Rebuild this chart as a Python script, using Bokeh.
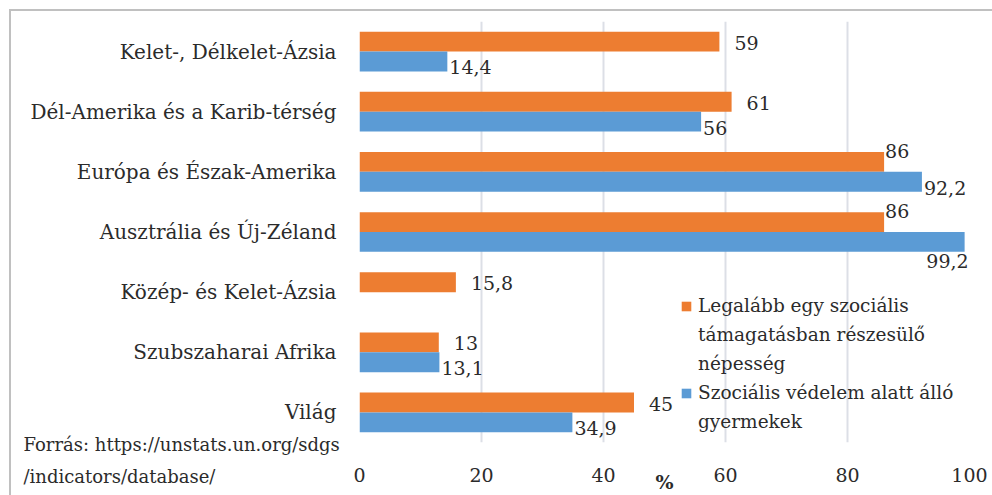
from bokeh.plotting import figure
from bokeh.models import (ColumnDataSource, FactorRange, Range1d, Legend, LegendItem, Label,
                          FixedTicker, InlineStyleSheet)
from bokeh.layouts import column
from bokeh.transform import dodge
from bokeh.core.properties import value
from bokeh.embed import file_html
from bokeh.resources import INLINE

# ---- data ----
categories = ["Kelet-, Délkelet-Ázsia", "Dél-Amerika és a Karib-térség", "Európa és Észak-Amerika",
              "Ausztrália és Új-Zéland", "Közép- és Kelet-Ázsia", "Szubszaharai Afrika", "Világ"]
population = [59, 61, 86, 86, 15.8, 13, 45]
children = [14.4, 56, 92.2, 99.2, None, 13.1, 34.9]
series_lines = [["Legalább egy szociális", "támagatásban részesülő", "népesség"],
                ["Szociális védelem alatt álló", "gyermekek"]]
x_ticks = [0, 20, 40, 60, 80, 100]
axis_unit = "%"
source_lines = ["Forrás: https://unstats.un.org/sdgs", "/indicators/database/"]

FONT = "DejaVu Serif"
TXT = "#2b2b2b"
ORANGE = "#ED7D31"
BLUE = "#5B9BD5"
BH = 0.33
OFF = 0.165
W, H = 992, 495

def fmt(v):
    return ("%g" % v).replace(".", ",")

p = figure(width=W, height=H, output_backend="svg", toolbar_location=None,
           y_range=FactorRange(factors=list(reversed(categories)), range_padding=0),
           x_range=Range1d(0, 100),
           min_border_left=359, min_border_right=23, min_border_top=21, min_border_bottom=50)
p.outline_line_color = None
p.background_fill_color = "white"
p.stylesheets = [InlineStyleSheet(css="""
:host { position: relative; overflow: hidden; z-index: 0; }
:host::after { content: ""; position: absolute; left: 9px; top: 9px; width: 3000px; height: 3000px;
  border-left: 2px solid #c0c0c0; border-top: 2px solid #c0c0c0; pointer-events: none; }
""")]

o_cats = [c for c, v in zip(categories, population) if v is not None]
o_vals = [v for v in population if v is not None]
b_cats = [c for c, v in zip(categories, children) if v is not None]
b_vals = [v for v in children if v is not None]

src_o = ColumnDataSource(dict(cat=o_cats, val=o_vals))
src_b = ColumnDataSource(dict(cat=b_cats, val=b_vals))

r_o = p.hbar(y=dodge("cat", OFF, range=p.y_range), left=0, right="val", height=BH, source=src_o,
             fill_color=ORANGE, line_color=None)
r_b = p.hbar(y=dodge("cat", -OFF, range=p.y_range), left=0, right="val", height=BH, source=src_b,
             fill_color=BLUE, line_color=None)

# data labels (placement rules mimic the reference)
def label_source(cats, vals, kind):
    left = dict(cat=[], x=[], text=[], xo=[], yo=[])
    right = dict(cat=[], x=[], text=[], xo=[], yo=[])
    for c, v in zip(cats, vals):
        if kind == "o":
            if v >= 80:
                d, xo, yo = left, 1, -11
            else:
                d, xo, yo = left, 15, 1
        else:
            if v >= 95:
                d, xo, yo = right, 4, 19
            else:
                d, xo, yo = left, 2, 6
        d["cat"].append(c); d["x"].append(v); d["text"].append(fmt(v)); d["xo"].append(xo); d["yo"].append(yo)
    return ColumnDataSource(left), ColumnDataSource(right)

for cats, vals, kind, off in [(o_cats, o_vals, "o", OFF), (b_cats, b_vals, "b", -OFF)]:
    ls, rs = label_source(cats, vals, kind)
    p.text(x="x", y=dodge("cat", off, range=p.y_range), text="text", x_offset="xo", y_offset="yo",
           source=ls, text_font=value(FONT), text_font_size="19px", text_color=TXT,
           text_align="left", text_baseline="middle")
    if len(rs.data["x"]):
        p.text(x="x", y=dodge("cat", off, range=p.y_range), text="text", y_offset="yo",
               x_offset=4, source=rs, text_font=value(FONT), text_font_size="19px", text_color=TXT,
               text_align="right", text_baseline="middle")

# axes
p.xaxis.ticker = FixedTicker(ticks=x_ticks)
p.xaxis.axis_line_color = None
p.xaxis.major_tick_line_color = None
p.xaxis.minor_tick_line_color = None
p.xaxis.major_label_text_font = FONT
p.xaxis.major_label_text_font_size = "19px"
p.xaxis.major_label_text_color = TXT
p.xaxis.major_label_standoff = 19
p.xaxis.axis_label = axis_unit
p.xaxis.axis_label_text_font = FONT
p.xaxis.axis_label_text_font_size = "19px"
p.xaxis.axis_label_text_font_style = "bold"
p.xaxis.axis_label_text_color = TXT
p.xaxis.axis_label_standoff = -14

p.yaxis.axis_line_color = None
p.yaxis.major_tick_line_color = None
p.yaxis.major_tick_out = 0
p.yaxis.major_label_text_font = FONT
p.yaxis.major_label_text_font_size = "20px"
p.yaxis.major_label_text_color = TXT
p.yaxis.major_label_standoff = 23

p.xgrid.grid_line_color = "#dcdfe6"
p.xgrid.grid_line_width = 2
p.ygrid.grid_line_color = None

def dummy():
    return p.hbar(y=[], left=[], right=[], height=BH, fill_alpha=0, line_alpha=0)

# legend: one row per text line, glyph only on first line of each series
items = []
for lines, rend in [(series_lines[0], r_o), (series_lines[1], r_b)]:
    for j, line in enumerate(lines):
        items.append(LegendItem(label=line, renderers=[rend if j == 0 else dummy()]))

legend = Legend(items=items, location=(321, 8), label_text_font=FONT, label_text_font_size="18.5px",
                label_text_color=TXT, label_height=25, label_standoff=6,
                glyph_width=12, glyph_height=12, spacing=4, padding=0, margin=0,
                background_fill_alpha=0, border_line_color=None)
p.add_layout(legend)

# source note: a transparent strip overlapping the chart's bottom edge; the note text sits in
# the strip's left side panel (left of its frame, which lines up with the chart's frame)
NH = 62
note = figure(width=W, height=NH, output_backend="svg", toolbar_location=None,
              x_range=Range1d(0, 1), y_range=Range1d(0, 1), x_axis_type=None, y_axis_type=None,
              min_border=0, margin=(-NH, 0, 0, 0), sizing_mode="fixed")
note.outline_line_color = None
note.background_fill_alpha = 0
note.border_fill_alpha = 0
note.xgrid.visible = False
note.ygrid.visible = False
note.stylesheets = [InlineStyleSheet(css=":host { position: relative; z-index: 5; pointer-events: none; }")]
note.add_layout(Label(x=-20, y=35, x_units="screen", y_units="screen", text="\n".join(source_lines),
                      text_font=FONT, text_font_size="18px", text_color=TXT, text_line_height=1.55,
                      text_align="left", text_baseline="middle"), "left")

layout = column(p, note, spacing=0)
open("out.html", "w").write(file_html(layout, INLINE))
